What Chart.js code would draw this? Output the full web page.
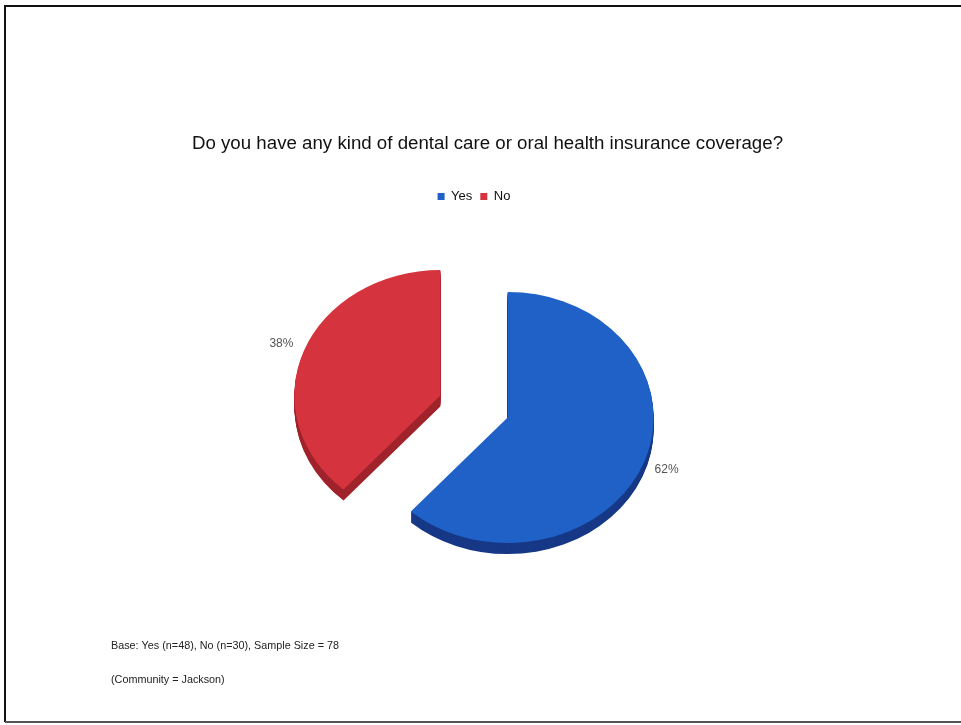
<!DOCTYPE html>
<html>
<head>
<meta charset="utf-8">
<script src="https://cdn.jsdelivr.net/npm/chart.js@4.4.1/dist/chart.umd.min.js"></script>
<style>
  html, body { margin: 0; padding: 0; background: #fff; }
  #wrap { position: relative; width: 961px; height: 725px; }
</style>
</head>
<body>
<div id="wrap"><canvas id="canvas"></canvas></div>
<script>
const categories = ["Yes", "No"];
const counts = [48, 30];
const community = "Jackson";
const titleText = "Do you have any kind of dental care or oral health insurance coverage?";

const topColors = ["#1f61c6", "#d5343e"];
const sideColors = ["#173886", "#a0222b"];

const TILT = 0.86;    // vertical squash of the pie
const DEPTH = 11;     // thickness of the 3d rim
const EXPLODE = 36;   // how far the slices are pulled apart

const total = counts.reduce((a, b) => a + b, 0);
const baseText = "Base: " + categories.map((c, i) => c + " (n=" + counts[i] + ")").join(", ") +
  ", Sample Size = " + total;

// squash the pie and give it a rim, then draw the slices through the arc elements
const pie3d = {
  id: "pie3d",
  beforeDatasetsDraw(chart) {
    const { ctx } = chart;
    const meta = chart.getDatasetMeta(0);
    const cx = meta.data[0].x;
    const cy = meta.data[0].y;

    const place = (arc, d) => {
      const mid = (arc.startAngle + arc.endAngle) / 2;
      ctx.translate(cx, cy + d);
      ctx.scale(1, TILT);
      ctx.translate(-cx + Math.cos(mid) * EXPLODE, -cy + Math.sin(mid) * EXPLODE);
    };

    meta.data.forEach((arc, i) => {
      for (let d = DEPTH; d > 0; d--) {
        ctx.save();
        place(arc, d);
        ctx.beginPath();
        ctx.moveTo(arc.x, arc.y);
        ctx.arc(arc.x, arc.y, arc.outerRadius, arc.startAngle, arc.endAngle);
        ctx.closePath();
        ctx.fillStyle = sideColors[i];
        ctx.fill();
        ctx.restore();
      }
    });

    meta.data.forEach((arc) => {
      ctx.save();
      place(arc, 0);
      arc.draw(ctx);
      ctx.restore();
    });
    return false;
  },
  afterDraw(chart) {
    const { ctx } = chart;
    const meta = chart.getDatasetMeta(0);
    ctx.save();

    // percent labels outside each slice
    ctx.font = '12px "Liberation Sans", Arial, sans-serif';
    ctx.fillStyle = "#555";
    ctx.textAlign = "center";
    ctx.textBaseline = "middle";
    meta.data.forEach((arc, i) => {
      const mid = (arc.startAngle + arc.endAngle) / 2;
      const r = EXPLODE + arc.outerRadius + 24;
      const px = arc.x + Math.cos(mid) * r;
      const py = arc.y + Math.sin(mid) * r * TILT;
      ctx.fillText(Math.round(counts[i] / total * 100) + "%", px, py);
    });

    // title
    ctx.font = '18.7px "Liberation Sans", Arial, sans-serif';
    ctx.fillStyle = "#111";
    ctx.fillText(titleText, 487.5, 144);

    // footnotes
    ctx.font = '10.8px "Liberation Sans", Arial, sans-serif';
    ctx.fillStyle = "#222";
    ctx.textAlign = "left";
    ctx.fillText(baseText, 111, 646);
    ctx.fillText("(Community = " + community + ")", 111, 680);

    // page frame
    ctx.strokeStyle = "#111";
    ctx.lineWidth = 2;
    ctx.beginPath();
    ctx.moveTo(961, 6);
    ctx.lineTo(5, 6);
    ctx.lineTo(5, 722);
    ctx.stroke();
    ctx.strokeStyle = "#555";
    ctx.beginPath();
    ctx.moveTo(5, 722);
    ctx.lineTo(961, 722);
    ctx.stroke();

    ctx.restore();
  },
};

Chart.defaults.font.family = '"Liberation Sans", Arial, sans-serif';

new Chart(document.getElementById("canvas"), {
  type: "pie",
  data: {
    labels: categories,
    datasets: [
      {
        data: counts,
        backgroundColor: topColors,
        borderWidth: 0,
      },
    ],
  },
  options: {
    responsive: true,
    maintainAspectRatio: false,
    animation: false,
    radius: 146,
    layout: {
      padding: { top: 182, bottom: 125, left: 0, right: 13 },
    },
    plugins: {
      legend: {
        position: "top",
        labels: {
          boxWidth: 7,
          boxHeight: 7,
          padding: 8,
          color: "#111",
          font: { size: 13 },
        },
      },
      title: { display: false },
      tooltip: { enabled: false },
    },
  },
  plugins: [pie3d],
});
</script>
</body>
</html>
